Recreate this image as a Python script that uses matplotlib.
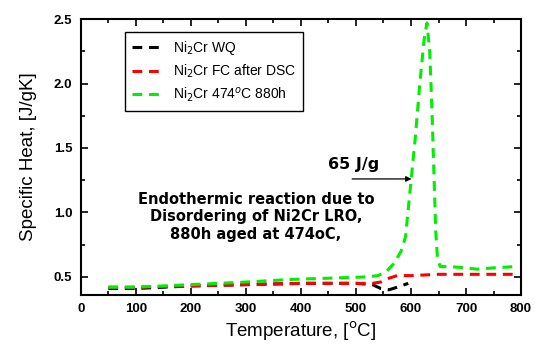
import matplotlib
matplotlib.use("Agg")
import matplotlib.pyplot as plt
from matplotlib.ticker import MultipleLocator

# Ni2Cr WQ
wq_t = [50, 100, 200, 300, 400, 500, 530, 545, 560, 575, 595]
wq_cp = [0.41, 0.41, 0.43, 0.44, 0.45, 0.45, 0.44, 0.41, 0.40, 0.42, 0.45]

# Ni2Cr FC after DSC
fc_t = [50, 100, 200, 300, 400, 500, 530, 545, 560, 575, 600, 650, 700, 750, 790]
fc_cp = [0.42, 0.42, 0.43, 0.44, 0.45, 0.45, 0.45, 0.46, 0.49, 0.51, 0.51, 0.52, 0.52, 0.52, 0.52]

# Ni2Cr 474C 880h
ag_t = [50, 100, 200, 300, 380, 450, 520, 540, 555, 570, 582, 590, 599, 608, 616, 624, 629,
        634, 638, 642, 645, 648, 653, 670, 700, 720, 750, 790]
ag_cp = [0.42, 0.42, 0.44, 0.46, 0.48, 0.49, 0.50, 0.51, 0.54, 0.61, 0.70, 0.81, 1.20, 1.59, 2.00,
         2.35, 2.47, 2.25, 1.80, 1.25, 0.85, 0.65, 0.58, 0.58, 0.57, 0.56, 0.57, 0.58]

fig = plt.figure(figsize=(5.35, 3.47), dpi=100)
ax = fig.add_axes([0.151, 0.150, 0.823, 0.795])

dash = (0, (3.2, 2.2))
ax.plot(wq_t, wq_cp, color="black", lw=2.2, linestyle=dash, label="Ni$_2$Cr WQ")
ax.plot(fc_t, fc_cp, color="#ff0000", lw=2.2, linestyle=dash, label="Ni$_2$Cr FC after DSC")
ax.plot(ag_t, ag_cp, color="#00ee00", lw=2.2, linestyle=dash, label="Ni$_2$Cr 474$^o$C 880h")

ax.set_xlim(0, 800)
ax.set_ylim(0.36, 2.5)
ax.xaxis.set_major_locator(MultipleLocator(100))
ax.xaxis.set_minor_locator(MultipleLocator(50))
ax.yaxis.set_major_locator(MultipleLocator(0.5))
ax.yaxis.set_minor_locator(MultipleLocator(0.25))
ax.tick_params(which="both", direction="in", top=True, right=True, width=1.2)
ax.tick_params(which="major", length=5, labelsize=9.5, pad=6)
ax.tick_params(which="minor", length=3)
for lab in ax.get_xticklabels() + ax.get_yticklabels():
    lab.set_fontfamily("Liberation Sans")
    lab.set_fontweight("bold")
for sp in ax.spines.values():
    sp.set_linewidth(1.5)

ax.set_xlabel("Temperature, [$^{\\mathrm{o}}$C]", fontsize=13.5, family="Liberation Sans", labelpad=3)
ax.set_ylabel("Specific Heat, [J/gK]", fontsize=13.5, family="Liberation Sans", labelpad=12)

leg = ax.legend(loc="upper left", bbox_to_anchor=(0.1, 0.953), fancybox=False,
                edgecolor="black", framealpha=1, handlelength=2.2,
                prop={"family": "Liberation Sans", "size": 10}, borderpad=0.5,
                labelspacing=0.4, borderaxespad=0)
leg.get_frame().set_linewidth(1.0)

ax.text(450, 1.37, "65 J/g", fontsize=11.5, fontweight="bold", family="DejaVu Sans",
        ha="left", va="center")
ax.annotate("", xy=(606, 1.26), xytext=(488, 1.26),
            arrowprops=dict(arrowstyle="-|>", color="black", lw=0.9, mutation_scale=8))
ax.text(318, 0.965, "Endothermic reaction due to\nDisordering of Ni2Cr LRO,\n880h aged at 474oC,",
        fontsize=10.5, fontweight="bold", family="DejaVu Sans", ha="center", va="center",
        linespacing=1.2)

fig.savefig("out.png", dpi=100)
